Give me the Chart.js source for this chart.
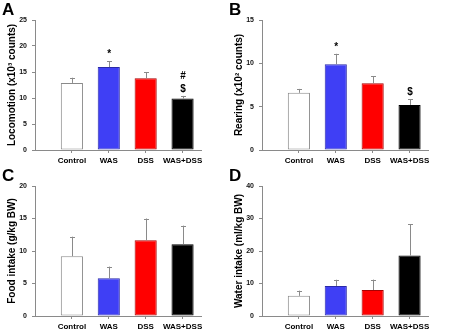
<!DOCTYPE html>
<html>
<head>
<meta charset="utf-8">
<script src="https://cdn.jsdelivr.net/npm/chart.js@4/dist/chart.umd.min.js"></script>
<style>
  body { margin: 0; background: #fff; }
  #wrap { position: relative; width: 454px; height: 332px; font-family: "Liberation Sans", Arial, sans-serif; }
  .panel { position: absolute; width: 227px; height: 166px; }
  .letter { position: absolute; left: 2px; top: 0px; font-weight: bold; font-size: 17px; }
</style>
</head>
<body>
<div id="wrap">
  <div class="panel" style="left:0;top:0"><canvas id="chartA" width="227" height="166"></canvas><div class="letter">A</div></div>
  <div class="panel" style="left:227px;top:0"><canvas id="chartB" width="227" height="166"></canvas><div class="letter">B</div></div>
  <div class="panel" style="left:0;top:166px"><canvas id="chartC" width="227" height="166"></canvas><div class="letter">C</div></div>
  <div class="panel" style="left:227px;top:166px"><canvas id="chartD" width="227" height="166"></canvas><div class="letter">D</div></div>
</div>
<script>
'use strict';
var groups = ["Control", "WAS", "DSS", "WAS+DSS"];

// A - locomotion (x10^3 counts)
var locoMean = [12.9, 15.95, 13.8, 9.9];
var locoErr = [1.0, 1.15, 1.2, 0.5];
var locoMarks = ["", "*", "", "$|#"];

// B - rearing (x10^2 counts)
var rearMean = [6.6, 9.9, 7.7, 5.2];
var rearErr = [0.45, 1.2, 0.8, 0.65];
var rearMarks = ["", "*", "", "$"];

// C - food intake (g/kg BW)
var foodMean = [9.2, 5.8, 11.65, 11.05];
var foodErr = [3.0, 1.8, 3.35, 2.85];

// D - water intake (ml/kg BW)
var waterMean = [6.2, 9.25, 8.0, 18.6];
var waterErr = [1.6, 1.9, 3.2, 9.6];

var fillColors = ['#ffffff', '#3f3ff5', '#ff0000', '#000000'];
var edgeColors = ['#8a8a8a', '#2a2aa8', '#a80000', '#000000'];
var axisGray = '#8a8a8a';
var fontFam = '"Liberation Sans", Arial, sans-serif';

// error bars (upward only) + significance marks
var errorBarPlugin = {
  id: 'errorBars',
  afterDatasetsDraw: function(chart) {
    var ctx = chart.ctx;
    var yScale = chart.scales.y;
    var ds = chart.data.datasets[0];
    var meta = chart.getDatasetMeta(0);
    ctx.save();
    meta.data.forEach(function(bar, i) {
      var top = yScale.getPixelForValue(ds.data[i].y + ds.errors[i]);
      ctx.strokeStyle = axisGray;
      ctx.lineWidth = 1;
      ctx.beginPath();
      ctx.moveTo(Math.round(bar.x) + 0.5, bar.y);
      ctx.lineTo(Math.round(bar.x) + 0.5, top);
      ctx.moveTo(Math.round(bar.x) - 2, Math.round(top) + 0.5);
      ctx.lineTo(Math.round(bar.x) + 3, Math.round(top) + 0.5);
      ctx.stroke();
      var marks = ds.marks ? ds.marks[i] : '';
      if (marks) {
        ctx.fillStyle = '#000';
        ctx.font = 'bold 10px ' + fontFam;
        ctx.textAlign = 'center';
        ctx.textBaseline = 'middle';
        marks.split('|').forEach(function(m, k) {
          ctx.fillText(m, bar.x + 0.5, top - 7 - k * 13);
        });
      }
    });
    ctx.restore();
  }
};

function makePanel(id, means, errs, marks, yMax, yStep, yTitle) {
  var canvas = document.getElementById(id);
  return new Chart(canvas.getContext('2d'), {
    type: 'bar',
    data: {
      datasets: [{
        data: means.map(function(v, i) { return { x: i + 1, y: v }; }),
        errors: errs,
        marks: marks,
        backgroundColor: fillColors,
        borderColor: edgeColors,
        borderWidth: 1,
        borderSkipped: false,
        barPercentage: 0.6,
        categoryPercentage: 1.0
      }]
    },
    options: {
      responsive: false,
      animation: false,
      layout: { padding: { left: 0, right: 26, top: 20, bottom: 0 } },
      plugins: { legend: { display: false }, tooltip: { enabled: false } },
      scales: {
        x: {
          type: 'linear',
          offset: false,
          min: 0,
          max: 4.5,
          afterBuildTicks: function(scale) {
            scale.ticks = groups.map(function(g, i) { return { value: i + 1 }; });
          },
          afterFit: function(scale) { scale.height = 16; },
          ticks: {
            autoSkip: false,
            maxRotation: 0,
            padding: 3,
            color: '#000',
            font: { family: fontFam, size: 8, weight: 'bold' },
            callback: function(v) { return groups[v - 1] || ''; }
          },
          grid: { display: true, offset: false, drawOnChartArea: false, drawTicks: true, tickLength: 3, color: axisGray },
          border: { color: axisGray }
        },
        y: {
          min: 0,
          max: yMax,
          afterFit: function(scale) { scale.width = 35; },
          ticks: {
            stepSize: yStep,
            padding: 5,
            color: '#111',
            font: { family: fontFam, size: 7, weight: 'bold' }
          },
          grid: { display: true, drawOnChartArea: false, drawTicks: true, tickLength: 3, color: axisGray },
          border: { color: axisGray },
          title: {
            display: true,
            text: yTitle,
            color: '#000',
            padding: { top: 6, bottom: 0 },
            font: { family: fontFam, size: 10, weight: 'bold' }
          }
        }
      }
    },
    plugins: [errorBarPlugin]
  });
}

makePanel('chartA', locoMean, locoErr, locoMarks, 25, 5, 'Locomotion (x10\u00b3 counts)');
makePanel('chartB', rearMean, rearErr, rearMarks, 15, 5, 'Rearing (x10\u00b2 counts)');
makePanel('chartC', foodMean, foodErr, null, 20, 5, 'Food intake (g/kg BW)');
makePanel('chartD', waterMean, waterErr, null, 40, 10, 'Water intake (ml/kg BW)');
</script>
</body>
</html>
